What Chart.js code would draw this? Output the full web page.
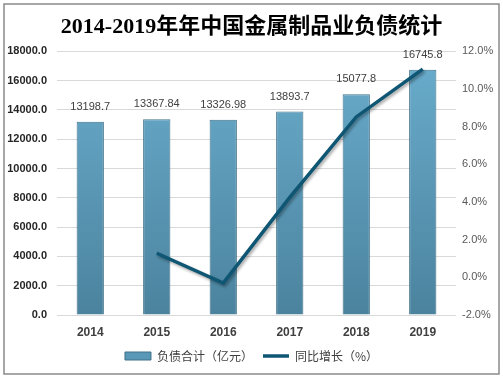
<!DOCTYPE html>
<html><head><meta charset="utf-8">
<script src="https://cdn.jsdelivr.net/npm/chart.js@4/dist/chart.umd.min.js"></script>
<style>html,body{margin:0;padding:0;background:#fff}#wrap{width:503px;height:379px;position:relative}</style>
</head><body><div id="wrap"><canvas id="c" width="503" height="379"></canvas></div>
<script>
const titleText = '2014-2019年年中国金属制品业负债统计';
const categories = ['2014', '2015', '2016', '2017', '2018', '2019'];
const debtValues = [13198.7, 13367.84, 13326.98, 13893.7, 15077.8, 16745.8];
const debtLabels = ['13198.7', '13367.84', '13326.98', '13893.7', '15077.8', '16745.8'];
const growthValues = [null, 1.28, -0.31, 4.25, 8.52, 11.06];
const seriesNames = ['负债合计（亿元）', '同比增长（%）'];
const leftMin = 0, leftMax = 18000, leftStep = 2000;
const rightMin = -2, rightMax = 12, rightStep = 2;

const CJK = '"Liberation Sans", "Noto Sans CJK SC", sans-serif';

const framePlugin = {
  id: 'frame',
  afterDraw(chart) {
    const ctx = chart.ctx;
    ctx.save();
    ctx.strokeStyle = '#8a8a8a';
    ctx.lineWidth = 1.5;
    ctx.strokeRect(4, 4, 495, 370);
    ctx.restore();
  }
};

const labelPlugin = {
  id: 'barLabels',
  afterDatasetsDraw(chart) {
    const meta = chart.getDatasetMeta(0);
    const ctx = chart.ctx;
    ctx.save();
    ctx.font = '11px ' + CJK;
    ctx.fillStyle = '#404040';
    ctx.textAlign = 'center';
    ctx.textBaseline = 'middle';
    meta.data.forEach((el, i) => {
      ctx.fillText(debtLabels[i], el.x, el.y - 15);
    });
    ctx.restore();
  }
};

const shadowPlugin = {
  id: 'lineShadow',
  beforeDatasetDraw(chart, args) {
    if (args.index === 1) {
      const ctx = chart.ctx;
      ctx.save();
      ctx.shadowColor = 'rgba(0,0,0,0.35)';
      ctx.shadowBlur = 3;
      ctx.shadowOffsetX = 1.5;
      ctx.shadowOffsetY = 2;
    }
  },
  afterDatasetDraw(chart, args) {
    if (args.index === 1) chart.ctx.restore();
  }
};

function barGradient(context) {
  const chart = context.chart;
  const area = chart.chartArea;
  if (!area) return '#5b9aba';
  const g = chart.ctx.createLinearGradient(0, area.top, 0, area.bottom);
  g.addColorStop(0, '#6aadcd');
  g.addColorStop(1, '#4b839e');
  return g;
}

new Chart(document.getElementById('c'), {
  type: 'bar',
  data: {
    labels: categories,
    datasets: [
      {
        type: 'bar',
        label: seriesNames[0],
        data: debtValues,
        yAxisID: 'y',
        backgroundColor: barGradient,
        borderColor: '#3f7189',
        borderWidth: 1,
        categoryPercentage: 1,
        barPercentage: 0.41,
        order: 1,
        pointStyle: 'rect'
      },
      {
        type: 'line',
        label: seriesNames[1],
        data: growthValues,
        yAxisID: 'y1',
        borderColor: '#0e5673',
        backgroundColor: '#0e5673',
        borderWidth: 3.5,
        pointRadius: 0,
        tension: 0,
        spanGaps: false,
        order: 0,
        pointStyle: 'line'
      }
    ]
  },
  options: {
    responsive: false,
    animation: false,
    devicePixelRatio: 1,
    layout: { padding: { top: 0, left: 0, right: 0, bottom: 7 } },
    plugins: {
      title: {
        display: true,
        text: titleText,
        color: '#000',
        font: { size: 22, weight: 'bold', family: '"Liberation Serif", "Noto Sans CJK SC", serif' },
        padding: { top: 14, bottom: 11 }
      },
      legend: {
        position: 'bottom',
        labels: {
          usePointStyle: true,
          pointStyleWidth: 26,
          boxHeight: 8,
          padding: 10,
          color: '#404040',
          font: { size: 12, family: '"Noto Sans CJK SC", sans-serif' },
          sort: (a, b) => a.datasetIndex - b.datasetIndex,
          generateLabels(chart) {
            const items = Chart.defaults.plugins.legend.labels.generateLabels(chart);
            items.forEach(it => {
              if (it.datasetIndex === 0) {
                it.fillStyle = '#5a98b8';
                it.strokeStyle = '#3f7189';
                it.lineWidth = 1;
              } else {
                it.strokeStyle = '#0e5673';
                it.lineWidth = 3.5;
              }
            });
            return items;
          }
        }
      },
      tooltip: { enabled: false }
    },
    scales: {
      x: {
        offset: true,
        grid: { display: false, drawTicks: false },
        border: { display: false },
        ticks: {
          color: '#404040',
          padding: 10,
          font: { size: 12, weight: 'bold', family: CJK }
        },
        afterFit(scale) { scale.height = 25; }
      },
      y: {
        position: 'left',
        min: leftMin,
        max: leftMax,
        grid: { color: '#d9d9d9', drawTicks: false, lineWidth: 1 },
        border: { display: false },
        ticks: {
          stepSize: leftStep,
          padding: 10,
          color: '#262626',
          font: { size: 11, weight: 'bold', family: CJK },
          callback: v => Number(v).toFixed(1)
        },
        afterFit(scale) { scale.width = 57; }
      },
      y1: {
        position: 'right',
        min: rightMin,
        max: rightMax,
        grid: { display: false, drawTicks: false },
        border: { display: false },
        ticks: {
          stepSize: rightStep,
          padding: 6,
          color: '#595959',
          font: { size: 11, family: CJK },
          callback: v => Number(v).toFixed(1) + '%'
        },
        afterFit(scale) { scale.width = 47; }
      }
    }
  },
  plugins: [framePlugin, labelPlugin, shadowPlugin]
});
</script>
</body></html>
